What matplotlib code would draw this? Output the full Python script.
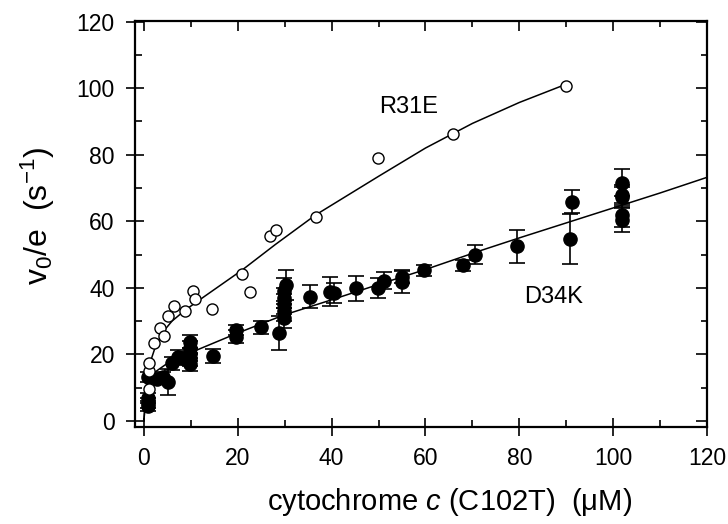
import numpy as np
import matplotlib.pyplot as plt

plt.rcParams['font.family'] = ['Liberation Sans', 'DejaVu Sans']
plt.rcParams['mathtext.fontset'] = 'custom'
plt.rcParams['mathtext.rm'] = 'Liberation Sans'
plt.rcParams['mathtext.it'] = 'Liberation Sans:italic'

# R31E (open circles)
r31e_x = [1.1, 1.1, 1.1, 2.1, 3.4, 4.3, 5.2, 6.5, 8.8, 10.5, 10.8, 14.5,
          21.0, 22.7, 26.8, 28.2, 36.6, 49.9, 65.8, 90.0]
r31e_y = [9.7, 15.0, 17.4, 23.3, 27.8, 25.6, 31.5, 34.6, 33.1, 38.9, 36.5, 33.7,
          44.0, 38.8, 55.5, 57.3, 61.3, 79.0, 86.2, 100.6]

# D34K (filled circles with error bars)
d34k_x = [0.9, 0.9, 0.9, 0.9, 2.7, 4.1, 5.2, 5.9, 7.3, 8.4,
          9.8, 9.8, 9.8, 9.8, 9.8, 14.7, 19.7, 19.7, 25.0,
          28.7, 29.8, 29.8, 29.8, 29.8, 29.8, 30.2,
          35.4, 39.6, 40.6, 45.3, 49.9, 51.1, 55.1, 55.1, 59.7, 68.0, 70.6,
          79.4, 90.8, 91.3, 101.8, 101.8, 101.8, 101.8, 101.8]
d34k_y = [4.5, 5.5, 7.0, 13.2, 12.7, 13.2, 11.7, 17.3, 19.2, 18.8,
          23.8, 22.0, 20.0, 18.5, 17.0, 19.5, 27.3, 25.3, 28.1,
          26.4, 31.0, 33.0, 35.0, 37.0, 39.0, 40.8,
          37.3, 38.8, 38.3, 39.8, 39.8, 42.1, 43.3, 41.8, 45.3, 46.8, 50.0,
          52.5, 54.6, 65.9, 71.6, 67.9, 67.3, 61.9, 60.4]
d34k_err = [1.5, 1.5, 1.5, 1.5, 1.5, 1.5, 4.0, 2.0, 2.0, 2.0,
            2.0, 2.0, 2.0, 2.0, 2.0, 2.0, 1.5, 2.0, 2.0,
            5.0, 3.0, 3.0, 3.0, 3.0, 4.0, 4.5,
            3.4, 4.3, 3.0, 3.7, 3.0, 2.5, 1.8, 3.5, 1.7, 1.7, 2.9,
            5.0, 7.5, 3.5, 4.0, 3.0, 3.0, 3.5, 3.5]

# fitted curves
fit_r31e_x = [0.0, 0.3, 0.7, 1.3, 2.5, 4.1, 6.0, 8.8, 13.0, 20.9, 28.0, 36.6, 50.0, 60.0, 70.0, 80.0, 90.0]
fit_r31e_y = [0.0, 7.0, 12.5, 17.4, 22.5, 26.8, 30.0, 33.3, 37.5, 45.3, 53.0, 61.9, 73.5, 82.0, 89.4, 95.7, 101.2]
fit_d34k_x = [0.0, 0.3, 0.7, 1.3, 2.5, 4.5, 7.0, 11.3, 19.8, 29.8, 39.8, 50.0, 60.0, 72.0, 80.0, 90.0, 100.0, 110.0, 120.0]
fit_d34k_y = [0.0, 5.0, 9.5, 12.7, 14.8, 16.8, 18.7, 21.3, 26.3, 31.8, 36.3, 41.0, 45.5, 51.3, 55.0, 59.5, 64.0, 68.5, 73.2]

fig = plt.figure(figsize=(7.28, 5.24), dpi=100)
ax = fig.add_axes([0.1854, 0.186, 0.7858, 0.774])

ax.plot(fit_r31e_x, fit_r31e_y, 'k-', lw=1.1, zorder=2)
ax.plot(fit_d34k_x, fit_d34k_y, 'k-', lw=1.1, zorder=2)
ax.errorbar(d34k_x, d34k_y, yerr=d34k_err, fmt='o', color='black', ms=9.5,
            elinewidth=1.2, capsize=6, capthick=1.2, zorder=3)
ax.plot(r31e_x, r31e_y, 'o', ms=8, markerfacecolor='white',
        markeredgecolor='black', markeredgewidth=1.0, zorder=4)

ax.text(56.5, 94.4, 'R31E', fontsize=17, ha='center', va='center')
ax.text(87.3, 37.2, 'D34K', fontsize=17, ha='center', va='center')

ax.set_xlim(-1.9, 120)
ax.set_ylim(-1.7, 120.2)
ax.set_xticks(np.arange(0, 121, 20))
ax.set_yticks(np.arange(0, 121, 20))
ax.set_xticks(np.arange(10, 120, 20), minor=True)
ax.set_yticks(np.arange(10, 120, 20), minor=True)
ax.tick_params(which='major', direction='inout', length=13, width=1.2, labelsize=16.5, pad=8)
ax.tick_params(which='minor', direction='in', length=5, width=1.2)
for s in ax.spines.values():
    s.set_linewidth(1.6)

sx = ax.secondary_xaxis('top')
sx.set_xticks(np.arange(0, 121, 20))
sx.set_xticks(np.arange(10, 120, 20), minor=True)
sx.tick_params(which='major', direction='in', length=7, width=1.2, labeltop=False)
sx.tick_params(which='minor', direction='in', length=4, width=1.2)
sy = ax.secondary_yaxis('right')
sy.set_yticks(np.arange(0, 121, 20))
sy.set_yticks(np.arange(10, 120, 20), minor=True)
sy.tick_params(which='major', direction='in', length=8, width=1.2, labelright=False)
sy.tick_params(which='minor', direction='in', length=4, width=1.2)
sx.spines['top'].set_visible(False)
sy.spines['right'].set_visible(False)

ax.set_xlabel('cytochrome $c$ (C102T)  (\u03bcM)', fontsize=21, labelpad=12, x=0.549)
ax.set_ylabel('v$_0$/e  (s$^{-1}$)', fontsize=23, labelpad=14, y=0.52)

plt.savefig('out.png', dpi=100)
